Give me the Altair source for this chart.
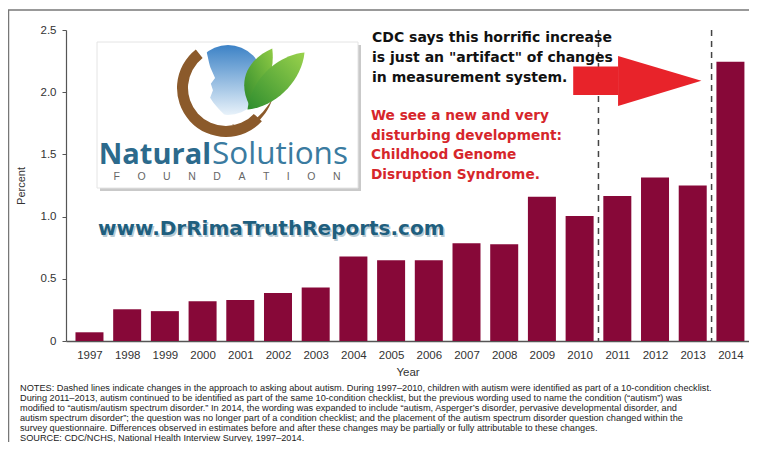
import altair as alt
import pandas as pd

# ---- data ----
years = list(range(1997, 2015))
percent = [0.07, 0.255, 0.24, 0.32, 0.33, 0.385, 0.43, 0.68, 0.65, 0.65,
           0.785, 0.777, 1.16, 1.005, 1.165, 1.315, 1.25, 2.245]
y_ticks = [0, 0.5, 1.0, 1.5, 2.0, 2.5]
change_points = [2010.5, 2013.5]

# arrow (data units)
arrow_body_x = [2009.83, 2011.02]
arrow_body_y = [1.978, 2.206]
arrow_head_x = [2011.02, 2013.23]
arrow_head_lo = [1.89, 2.092]
arrow_head_hi = [2.29, 2.092]

cdc_lines = ["CDC says this horrific increase",
             "is just an \"artifact\" of changes",
             "in measurement system."]
red_lines = ["We see a new and very",
             "disturbing development:",
             "Childhood Genome",
             "Disruption Syndrome."]
website = "www.DrRimaTruthReports.com"
notes_lines = [
    "NOTES: Dashed lines indicate changes in the approach to asking about autism. During 1997\u20132010, children with autism were identified as part of a 10-condition checklist.",
    "During 2011\u20132013, autism continued to be identified as part of the same 10-condition checklist, but the previous wording used to name the condition (\u201cautism\u201d) was",
    "modified to \u201cautism/autism spectrum disorder.\u201d In 2014, the wording was expanded to include \u201cautism, Asperger\u2019s disorder, pervasive developmental disorder, and",
    "autism spectrum disorder\u201d; the question was no longer part of a condition checklist; and the placement of the autism spectrum disorder question changed within the",
    "survey questionnaire. Differences observed in estimates before and after these changes may be partially or fully attributable to these changes.",
    "SOURCE: CDC/NCHS, National Health Interview Survey, 1997\u20132014.",
]
logo_word1 = "Natural"
logo_word2 = "Solutions"
logo_sub = "\u00a0\u00a0\u00a0\u00a0\u00a0\u00a0".join(list("FOUNDATION"))

bars_df = pd.DataFrame({"Year": years, "Percent": percent})
rules_df = pd.DataFrame({"x": change_points, "top": [2.5, 2.5], "bottom": [0, 0]})
body_df = pd.DataFrame({"x": [arrow_body_x[0]], "x2": [arrow_body_x[1]],
                        "y": [arrow_body_y[0]], "y2": [arrow_body_y[1]]})
head_df = pd.DataFrame({"x": arrow_head_x, "y": arrow_head_lo, "y2": arrow_head_hi})

X_DOM = [1996.51, 2014.36]
xs = alt.Scale(domain=X_DOM, nice=False, zero=False)
ys = alt.Scale(domain=[0, 2.5], nice=False)
one = alt.Data(values=[{}])
FONT = "Liberation Sans"

bars = alt.Chart(bars_df).mark_bar(size=28, color="#870838").encode(
    x=alt.X("Year:Q", scale=xs,
            axis=alt.Axis(values=years, format="d", ticks=False, grid=False,
                          labelOverlap=False, labelFlush=False,
                          domainColor="#555", domainWidth=1.5,
                          labelFont=FONT, labelFontSize=11.5, labelColor="#333",
                          labelPadding=8, title="Year", titleFont=FONT,
                          titleFontSize=11.5, titleFontWeight="normal",
                          titleColor="#333", titlePadding=6)),
    y=alt.Y("Percent:Q", scale=ys,
            axis=alt.Axis(values=y_ticks, grid=False, tickSize=4,
                          tickColor="#555", domainColor="#555", domainWidth=1.2,
                          labelExpr="datum.value == 0 ? '0' : format(datum.value, '.1f')",
                          labelFont=FONT, labelFontSize=11.5, labelColor="#333",
                          labelPadding=6, title="Percent", titleFont=FONT,
                          titleFontSize=11, titleFontWeight="normal",
                          titleColor="#333", titlePadding=14)),
)

rules = alt.Chart(rules_df).mark_rule(color="#444", strokeWidth=1.5,
                                      strokeDash=[6, 5]).encode(
    x=alt.X("x:Q", scale=xs), y=alt.Y("top:Q", scale=ys), y2="bottom:Q")

arrow_body = alt.Chart(body_df).mark_rect(color="#e8232a").encode(
    x=alt.X("x:Q", scale=xs), x2="x2:Q", y=alt.Y("y:Q", scale=ys), y2="y2:Q")
arrow_head = alt.Chart(head_df).mark_area(color="#e8232a").encode(
    x=alt.X("x:Q", scale=xs), y=alt.Y("y:Q", scale=ys), y2="y2:Q")

# frame
frame_top = alt.Chart(one).mark_rule(color="#999", strokeWidth=2).encode(
    x=alt.value(-58), x2=alt.value(683), y=alt.value(-20))
frame_left = alt.Chart(one).mark_rule(color="#777", strokeWidth=1.5).encode(
    x=alt.value(-57.5), y=alt.value(-20), y2=alt.value(420))

# logo
shadow = alt.Chart(one).mark_rect(color="#c9c9c9").encode(
    x=alt.value(34), x2=alt.value(295), y=alt.value(15), y2=alt.value(161))
box = alt.Chart(one).mark_rect(color="white", stroke="#e4e4e4").encode(
    x=alt.value(31), x2=alt.value(292), y=alt.value(12), y2=alt.value(158))
blue = alt.Chart(one).mark_point(
    shape="circle", filled=True, opacity=1, size=4900,
    color=alt.Gradient(gradient="linear", x1=0, y1=0, x2=0, y2=1,
                       stops=[alt.GradientStop(offset=0, color="#3c82c6"),
                              alt.GradientStop(offset=1, color="#e8f2fa")])
).encode(x=alt.value(162), y=alt.value(50))
face = alt.Chart(one).mark_point(
    shape="M-1,-1 L-0.66,-1 C-0.6,-0.8 -0.55,-0.5 -0.5,-0.35 L-0.37,-0.06 L-0.49,0.11 L-0.43,0.29 L-0.51,0.51 C-0.4,0.7 -0.25,0.85 -0.09,1 L-1,1 Z",
    filled=True, opacity=1, color="white", size=4900
).encode(x=alt.value(162), y=alt.value(50))
arc = alt.Chart(one).mark_arc(radius=49, radius2=38, theta=2.32, theta2=5.62,
                              color="#8b5a2b").encode(
    x=alt.value(160), y=alt.value(58))
hand = alt.Chart(one).mark_point(
    shape="M-1,0.6 C-0.3,0.9 0.3,0.4 1,-0.6 C0.8,0 0.3,0.7 -0.6,1 Z",
    filled=True, opacity=1, color="#8b5a2b", size=1600
).encode(x=alt.value(186), y=alt.value(82))
leaf1 = alt.Chart(one).mark_point(
    shape="M-0.3,1 C-0.8,0 -0.2,-0.7 0.5,-1 C0.6,-0.2 0.3,0.5 -0.3,1 Z",
    filled=True, opacity=1, size=3249,
    color=alt.Gradient(gradient="linear", x1=0, y1=1, x2=1, y2=0,
                       stops=[alt.GradientStop(offset=0, color="#2f8a2c"),
                              alt.GradientStop(offset=1, color="#8fcb45")])
).encode(x=alt.value(192), y=alt.value(47))
leaf2 = alt.Chart(one).mark_point(
    shape="M-1,1 C-0.9,0 0,-0.9 1,-1 C0.9,0 0,0.9 -1,1 Z",
    filled=True, opacity=1, size=3249,
    color=alt.Gradient(gradient="linear", x1=0, y1=1, x2=1, y2=0,
                       stops=[alt.GradientStop(offset=0, color="#2e8d2e"),
                              alt.GradientStop(offset=1, color="#9ad24c")])
).encode(x=alt.value(210), y=alt.value(51))
word1 = alt.Chart(one).mark_text(font="Open Sans", fontSize=29, fontWeight="bold",
                                 color="#2c6a8c", align="right", baseline="middle").encode(
    x=alt.value(145), y=alt.value(125), text=alt.value(logo_word1))
word2 = alt.Chart(one).mark_text(font="Open Sans", fontSize=31.5, color="#3a7ba0",
                                 align="left", baseline="middle").encode(
    x=alt.value(146), y=alt.value(125), text=alt.value(logo_word2))
sub = alt.Chart(one).mark_text(font=FONT, fontSize=10.5, color="#666",
                               align="center", baseline="middle").encode(
    x=alt.value(161), y=alt.value(147), text=alt.value(logo_sub))

site_shadow = alt.Chart(one).mark_text(font="DejaVu Sans", fontSize=20, fontWeight="bold",
                                       color="#b9cbd4", align="left", baseline="middle").encode(
    x=alt.value(33.5), y=alt.value(200.5), text=alt.value(website))
site = alt.Chart(one).mark_text(font="DejaVu Sans", fontSize=20, fontWeight="bold",
                                color="#1f5f7e", align="left", baseline="middle").encode(
    x=alt.value(32), y=alt.value(199), text=alt.value(website))

cdc = alt.Chart(one).mark_text(font="DejaVu Sans", fontSize=14, fontWeight="bold",
                               color="#111", align="left", baseline="middle",
                               lineHeight=20).encode(
    x=alt.value(306), y=alt.value(8), text=alt.value(cdc_lines))
red = alt.Chart(one).mark_text(font="DejaVu Sans", fontSize=13.7, fontWeight="bold",
                               color="#d6262b", align="left", baseline="middle",
                               lineHeight=19.7).encode(
    x=alt.value(305), y=alt.value(86), text=alt.value(red_lines))

notes = alt.Chart(one).mark_text(font=FONT, fontSize=9.2, color="#222",
                                 align="left", baseline="middle",
                                 lineHeight=10).encode(
    x=alt.value(-46), y=alt.value(358), text=alt.value(notes_lines))

chart = alt.layer(
    frame_top, frame_left, shadow, box, blue, face, arc, hand, leaf1, leaf2,
    word1, word2, sub, site_shadow, site,
    bars, rules, arrow_body, arrow_head, cdc, red, notes
).properties(
    width=683, height=311,
    autosize=alt.AutoSizeParams(type="none"),
    padding={"left": 58, "top": 22, "right": 0, "bottom": 101},
    background="white",
).configure_view(stroke="transparent", strokeWidth=0)

chart.save("out.html", embed_options={"renderer": "svg", "actions": False})
